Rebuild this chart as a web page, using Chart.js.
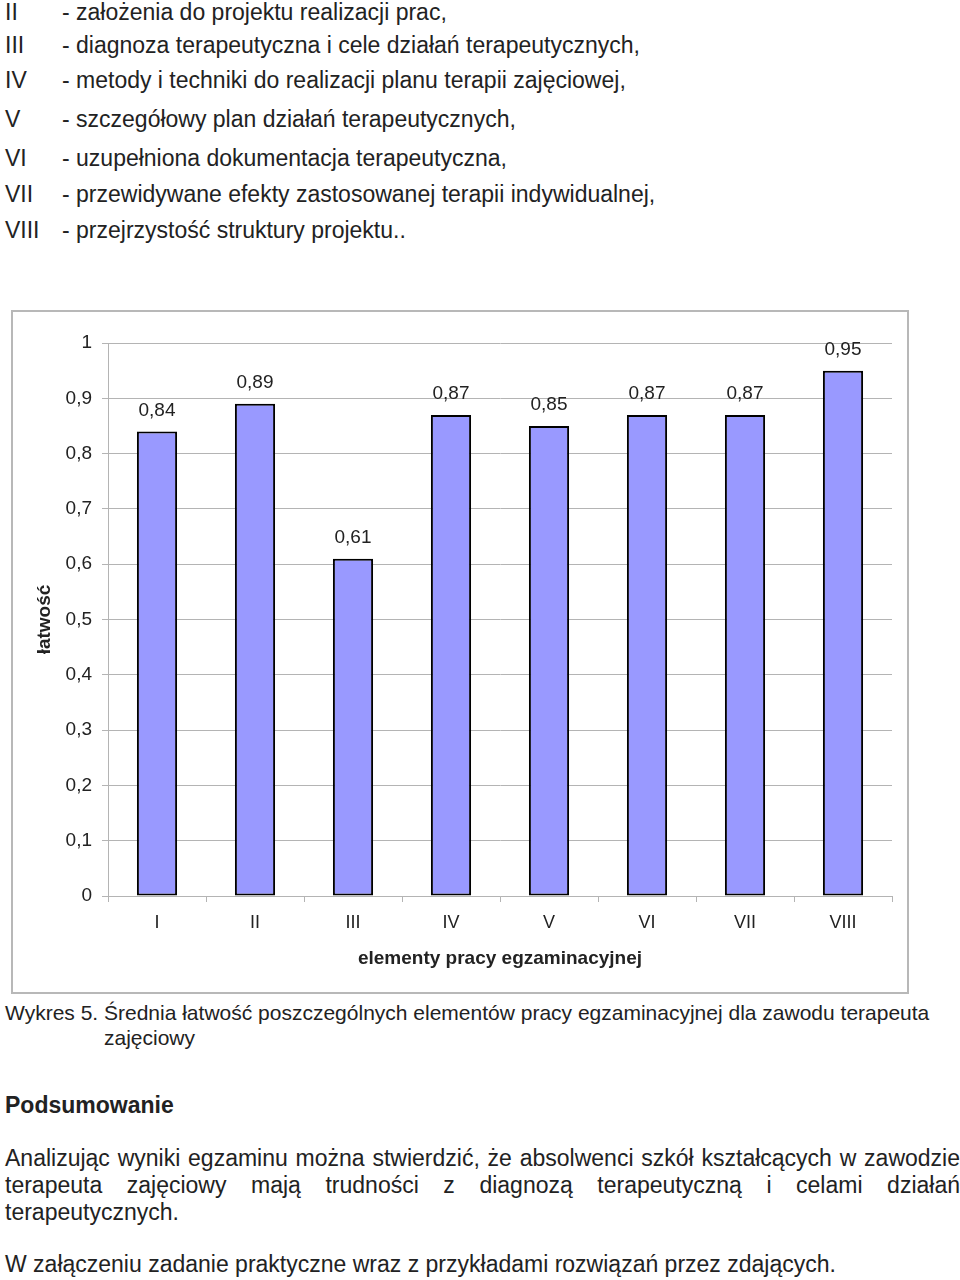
<!DOCTYPE html>
<html lang="pl">
<head>
<meta charset="utf-8">
<script src="https://cdn.jsdelivr.net/npm/chart.js@4"></script>
<style>
  html, body { margin: 0; padding: 0; background: #fff; }
  body { width: 960px; height: 1280px; position: relative; overflow: hidden;
         font-family: "Liberation Sans", Arial, sans-serif; color: #222; }
  .t { position: absolute; white-space: nowrap; }
  .row { position: absolute; left: 0; font-size: 23px; line-height: 24px; white-space: nowrap; }
  .row .n { position: absolute; left: 5px; }
  .row .d { position: absolute; left: 62px; }
  #box { position: absolute; left: 11px; top: 310px; width: 894px; height: 680px;
         border: 2px solid #b8b8b8; }
  .just { position: absolute; left: 5px; width: 955px; font-size: 23px; line-height: 26px;
          text-align: justify; text-align-last: justify; white-space: normal; }
</style>
</head>
<body>
<div class="row" style="top:0px"><span class="n">II</span><span class="d">- założenia do projektu realizacji prac,</span></div>
<div class="row" style="top:33px"><span class="n">III</span><span class="d">- diagnoza terapeutyczna i cele działań terapeutycznych,</span></div>
<div class="row" style="top:68px"><span class="n">IV</span><span class="d">- metody i techniki do realizacji planu terapii zajęciowej,</span></div>
<div class="row" style="top:107px"><span class="n">V</span><span class="d">- szczegółowy plan działań terapeutycznych,</span></div>
<div class="row" style="top:146px"><span class="n">VI</span><span class="d">- uzupełniona dokumentacja terapeutyczna,</span></div>
<div class="row" style="top:182px"><span class="n">VII</span><span class="d">- przewidywane efekty zastosowanej terapii indywidualnej,</span></div>
<div class="row" style="top:218px"><span class="n">VIII</span><span class="d">- przejrzystość struktury projektu..</span></div>

<div id="box"><canvas id="c"></canvas></div>

<div class="t" style="left:5px; top:1001px; font-size:21px; line-height:24px;">Wykres 5. Średnia łatwość poszczególnych elementów pracy egzaminacyjnej dla zawodu terapeuta</div>
<div class="t" style="left:104px; top:1026px; font-size:21px; line-height:24px;">zajęciowy</div>

<div class="t" style="left:5px; top:1092px; font-size:23px; line-height:26px; font-weight:bold;">Podsumowanie</div>

<div class="just" style="top:1145px;">Analizując wyniki egzaminu można stwierdzić, że absolwenci szkół kształcących w zawodzie</div>
<div class="just" style="top:1172px;">terapeuta zajęciowy mają trudności z diagnozą terapeutyczną i celami działań</div>
<div class="t" style="left:5px; top:1199px; font-size:23px; line-height:26px;">terapeutycznych.</div>

<div class="t" style="left:5px; top:1251px; font-size:23px; line-height:26px;">W załączeniu zadanie praktyczne wraz z przykładami rozwiązań przez zdających.</div>

<script>
const categories = ["I", "II", "III", "IV", "V", "VI", "VII", "VIII"];
const values = [0.84, 0.89, 0.61, 0.87, 0.85, 0.87, 0.87, 0.95];
const valueLabels = ["0,84", "0,89", "0,61", "0,87", "0,85", "0,87", "0,87", "0,95"];
const yTickValues = [0, 0.1, 0.2, 0.3, 0.4, 0.5, 0.6, 0.7, 0.8, 0.9, 1];
const yTickLabels = ["0", "0,1", "0,2", "0,3", "0,4", "0,5", "0,6", "0,7", "0,8", "0,9", "1"];
const xTitle = "elementy pracy egzaminacyjnej";
const yTitle = "łatwość";

const gridColor = "#b4b4b4";
const textColor = "#222";
const fontFamily = "'Liberation Sans', Arial, sans-serif";

const barLabels = {
  id: "barLabels",
  afterDatasetsDraw(chart) {
    const ctx = chart.ctx;
    const meta = chart.getDatasetMeta(0);
    ctx.save();
    ctx.font = "19px " + fontFamily;
    ctx.fillStyle = textColor;
    ctx.textAlign = "center";
    ctx.textBaseline = "middle";
    meta.data.forEach((bar, i) => {
      ctx.fillText(valueLabels[i], bar.x, bar.y - 21);
    });
    ctx.restore();
  }
};

Chart.defaults.font.family = fontFamily;
Chart.defaults.color = textColor;

new Chart(document.getElementById("c"), {
  type: "bar",
  data: {
    labels: categories,
    datasets: [{
      data: values,
      backgroundColor: "#9999ff",
      borderColor: "#000000",
      borderWidth: 2,
      borderSkipped: false,
      categoryPercentage: 1.0,
      barPercentage: 0.41
    }]
  },
  options: {
    responsive: true,
    maintainAspectRatio: false,
    animation: false,
    devicePixelRatio: 1,
    layout: { padding: { left: 0, right: 15, top: 31, bottom: 0 } },
    plugins: { legend: { display: false }, tooltip: { enabled: false } },
    scales: {
      x: {
        offset: true,
        grid: { display: true, drawOnChartArea: false, drawTicks: true, tickLength: 6, color: gridColor, offset: true },
        border: { display: true, color: gridColor, width: 1 },
        ticks: { font: { size: 18 }, color: textColor, padding: 10, maxRotation: 0, autoSkip: false },
        title: { display: true, text: xTitle, font: { size: 19, weight: "bold" }, color: textColor, padding: { top: 0, bottom: 22 } },
        afterFit(scale) { scale.height = 96; }
      },
      y: {
        min: 0, max: 1,
        afterBuildTicks(scale) { scale.ticks = yTickValues.map(v => ({ value: v })); },
        grid: { color: gridColor, lineWidth: 1, drawTicks: true, tickLength: 6 },
        border: { display: true, color: gridColor, width: 1 },
        ticks: {
          font: { size: 19 }, color: textColor, padding: 10,
          callback: (v) => { const i = yTickValues.findIndex(t => Math.abs(t - v) < 1e-9); return i >= 0 ? yTickLabels[i] : ""; }
        },
        title: { display: true, text: yTitle, font: { size: 19, weight: "bold" }, color: textColor, padding: { top: 20, bottom: 0 } },
        afterFit(scale) { scale.width = 95; }
      }
    }
  },
  plugins: [barLabels]
});
</script>
</body>
</html>
